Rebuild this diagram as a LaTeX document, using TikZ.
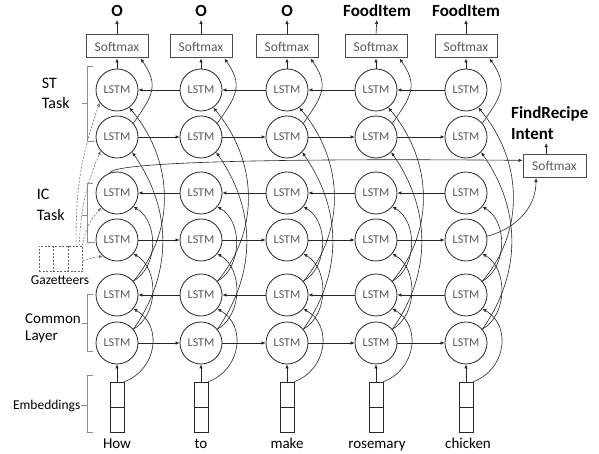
\documentclass[tikz,border=0pt]{standalone}
\usepackage{fontspec}
\setmainfont{Carlito}
\usetikzlibrary{arrows.meta,calc}
\definecolor{txtgray}{HTML}{595959}
\definecolor{brgray}{HTML}{8C8C8C}
\begin{document}
\begin{tikzpicture}[x=1pt,y=1pt,
  lstm/.style={circle,draw=black!85,line width=0.8pt,minimum size=42pt,inner sep=0pt,text=txtgray,font=\fontsize{12}{13}\selectfont},
  smbox/.style={draw=black!70,line width=1pt,minimum width=62pt,minimum height=23pt,inner sep=0pt,text=txtgray,font=\fontsize{13.5}{14}\selectfont},
  emb/.style={draw=black!85,line width=0.7pt,minimum width=14pt,minimum height=50pt,inner sep=0pt},
  conn/.style={draw=black!85,line width=0.6pt,-{Latex[length=4pt,width=3.5pt]}},
  dconn/.style={draw=black!55,line width=0.6pt,dash pattern=on 2pt off 1.5pt,-{Latex[length=4pt,width=3.5pt]}},
  brk/.style={draw=brgray,line width=0.7pt},
  lbl/.style={font=\fontsize{16}{18}\selectfont,inner sep=0pt,anchor=base west},
  lblc/.style={font=\fontsize{15}{17}\selectfont,inner sep=0pt,anchor=base west},
  small/.style={font=\fontsize{13.5}{15}\selectfont,inner sep=0pt},
  outlbl/.style={font=\bfseries\fontsize{17}{19}\selectfont,inner sep=0pt,anchor=base},
  word/.style={font=\fontsize{15}{17}\selectfont,inner sep=0pt,anchor=base},
]
\useasboundingbox (0,0) rectangle (599,454);

% columns
\foreach \i/\x in {1/117,2/201,3/287,4/376,5/466}{
  \foreach \j/\y in {1/364,2/317,3/261,4/214,5/159,6/111}{
    \node[lstm] (c\i-\j) at (\x,\y) {LSTM};
  }
  \node[smbox] (s\i) at (\x,407.5) {Softmax};
  \node[emb] (e\i) at (\x,47) {};
  \draw[line width=0.7pt,draw=black!85] (e\i.west) -- (e\i.east);
}

% output labels
\node[outlbl] (o1) at (117,437.3) {O};
\node[outlbl] (o2) at (201,437.3) {O};
\node[outlbl] (o3) at (287,437.3) {O};
\node[outlbl] (o4) at (377,437.3) {FoodItem};
\node[outlbl] (o5) at (466,437.3) {FoodItem};
\foreach \i in {1,...,5}{
  \draw[conn,shorten >=3pt] (s\i.north) -- (o\i.south);
}

% words
\node[word] (w1) at (117,5.7) {How};
\node[word] (w2) at (201,5.7) {to};
\node[word] (w3) at (287,5.7) {make};
\node[word] (w4) at (377,5.7) {rosemary};
\node[word] (w5) at (468,5.7) {chicken};

% horizontal recurrent arrows
\foreach \a/\b in {1/2,2/3,3/4,4/5}{
  \draw[conn] (c\b-1) -- (c\a-1);
  \draw[conn] (c\a-2) -- (c\b-2);
  \draw[conn] (c\b-3) -- (c\a-3);
  \draw[conn] (c\a-4) -- (c\b-4);
  \draw[conn] (c\b-5) -- (c\a-5);
  \draw[conn] (c\a-6) -- (c\b-6);
}

% vertical connections in each column
\foreach \i in {1,...,5}{
  \draw[conn] (c\i-1) -- (s\i);
  \draw[conn] (c\i-2.40) to[out=55,in=-55,looseness=1.3] (s\i.-27);
  \draw[conn] (c\i-5.40) to[out=50,in=-50] (c\i-1.-55);
  \draw[conn] (c\i-6.40) to[out=55,in=-55] (c\i-2.-45);
  \draw[conn] (c\i-5.40) to[out=30,in=-30] (c\i-3.-40);
  \draw[conn] (c\i-6.40) to[out=30,in=-30] (c\i-4.-40);
  \draw[conn] (e\i.north east) to[out=20,in=-30,looseness=1.2] (c\i-5.-40);
  \draw[conn] (e\i) -- (c\i-6);
}

% intent classification softmax
\node[smbox,minimum width=63pt] (si) at (554.5,288) {Softmax};
\node[outlbl,anchor=base west] (findrecipe) at (511,335) {FindRecipe};
\node[outlbl,anchor=base west] (intent) at (511,314.7) {Intent};
\draw[conn,shorten >=3.4pt] (si.125) -- (si.125 |- intent.south);
\draw[conn] (c1-3.110) .. controls (112,291) and (250,296) .. (si.170);
\draw[conn] (c5-4.10) to[out=15,in=-90] (si.213);

% gazetteers
\node[draw=black!60,dash pattern=on 2pt off 1.5pt,line width=0.7pt,minimum width=43.4pt,minimum height=25.7pt,inner sep=0pt] (gaz) at (61,195.2) {};
\draw[draw=black!60,dash pattern=on 2pt off 1.5pt,line width=0.7pt] ($(gaz.north west)!1/3!(gaz.north east)$) -- ($(gaz.south west)!1/3!(gaz.south east)$);
\draw[draw=black!60,dash pattern=on 2pt off 1.5pt,line width=0.7pt] ($(gaz.north west)!2/3!(gaz.north east)$) -- ($(gaz.south west)!2/3!(gaz.south east)$);
\node[small,anchor=base] (gazlbl) at (60,169) {Gazetteers};
\draw[dconn] (gaz.41) to[bend left=10] (c1-1.-144);
\draw[dconn] (gaz.36) to[bend left=10] (c1-2.-140);
\draw[dconn] (gaz.32) to[bend left=15] (c1-3.-137);
\draw[dconn] (gaz.-5) to[bend left=5] (c1-4.-131);

% brackets and labels
\draw[brk] (93,388) -- (87,388) -- (87,313) -- (95,313);
\draw[brk] (87,351) -- (82,351);
\draw[brk] (93,271) -- (87,271) -- (87,212) -- (95,212);
\draw[brk] (87,239) -- (82,239);
\draw[brk] (93,160) -- (87,160) -- (87,103) -- (93,103);
\draw[brk] (87,131) -- (82,131);
\draw[brk] (93,79) -- (87,79) -- (87,22) -- (93,22);
\draw[brk] (87,49) -- (81,49);

\node[lbl] (st) at (41.7,365.7) {ST};
\node[lbl] (sttask) at (41.7,345.7) {Task};
\node[lbl] (ic) at (36.7,254) {IC};
\node[lbl] (ictask) at (36.7,233.3) {Task};
\node[lblc] (common) at (25,130.7) {Common};
\node[lblc] (layer) at (25,113.3) {Layer};
\node[small,anchor=base east] (emblbl) at (80.5,44) {Embeddings};
\end{tikzpicture}
\end{document}
